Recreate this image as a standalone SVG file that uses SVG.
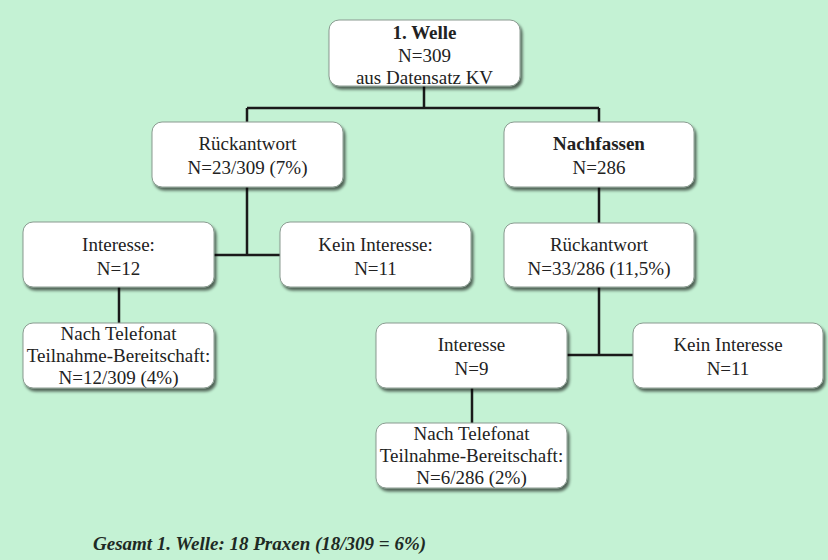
<svg xmlns="http://www.w3.org/2000/svg" width="828" height="560" viewBox="0 0 828 560">
<defs>
<filter id="sh" x="-10%" y="-10%" width="130%" height="140%">
<feGaussianBlur in="SourceAlpha" stdDeviation="1.5"/>
<feOffset dx="2" dy="3" result="b"/>
<feComponentTransfer><feFuncA type="linear" slope="0.6"/></feComponentTransfer>
<feMerge><feMergeNode/><feMergeNode in="SourceGraphic"/></feMerge>
</filter>
</defs>
<style>
.bx{fill:#ffffff;stroke:#8a9a90;stroke-width:1;filter:url(#sh)}
text{font-size:19px;fill:#222;text-anchor:middle}
.b{font-weight:bold}
.ft{font-weight:bold;font-style:italic;text-anchor:start;fill:#1e2a24}
.c{stroke:#1a1a1a;stroke-width:2.5;fill:none}
</style>
<rect width="828" height="560" fill="#c4f2d4"/>
<g id="connectors">
<path class="c" d="M424 86V108M247 108H599M247 108V122M599 108V122"/>
<path class="c" d="M247 187V255M214 255H280"/>
<path class="c" d="M119 287V323"/>
<path class="c" d="M599 187V223M599 287V355M567 355H633"/>
<path class="c" d="M472 388V423"/>
</g>
<g font-family="Liberation Serif, Times New Roman, DejaVu Serif, serif">
<g id="n1"><rect class="bx" x="329" y="20" width="191" height="66" rx="10"/>
<text x="424.5" y="39" class="b">1. Welle</text><text x="424.5" y="62">N=309</text><text x="424.5" y="84">aus Datensatz KV</text></g>
<g id="n2"><rect class="bx" x="152" y="122" width="191" height="65" rx="10"/>
<text x="247.5" y="150">Rückantwort</text><text x="247.5" y="174">N=23/309 (7%)</text></g>
<g id="n3"><rect class="bx" x="504" y="122" width="190" height="65" rx="10"/>
<text x="599" y="150" class="b">Nachfassen</text><text x="599" y="174">N=286</text></g>
<g id="n4"><rect class="bx" x="23" y="222" width="191" height="65" rx="10"/>
<text x="118.5" y="251">Interesse:</text><text x="118.5" y="275">N=12</text></g>
<g id="n5"><rect class="bx" x="280" y="222" width="191" height="65" rx="10"/>
<text x="375.5" y="251">Kein Interesse:</text><text x="375.5" y="275">N=11</text></g>
<g id="n6"><rect class="bx" x="504" y="223" width="190" height="64" rx="10"/>
<text x="599" y="251">Rückantwort</text><text x="599" y="275">N=33/286 (11,5%)</text></g>
<g id="n7"><rect class="bx" x="23" y="323" width="191" height="65" rx="10"/>
<text x="118.5" y="340">Nach Telefonat</text><text x="118.5" y="362">Teilnahme-Bereitschaft:</text><text x="118.5" y="384">N=12/309 (4%)</text></g>
<g id="n8"><rect class="bx" x="376" y="323" width="191" height="65" rx="10"/>
<text x="471.5" y="351">Interesse</text><text x="471.5" y="375">N=9</text></g>
<g id="n9"><rect class="bx" x="633" y="323" width="190" height="65" rx="10"/>
<text x="728" y="351">Kein Interesse</text><text x="728" y="375">N=11</text></g>
<g id="n10"><rect class="bx" x="376" y="423" width="191" height="65" rx="10"/>
<text x="471.5" y="440">Nach Telefonat</text><text x="471.5" y="462">Teilnahme-Bereitschaft:</text><text x="471.5" y="484">N=6/286 (2%)</text></g>
<text class="ft" x="93" y="550">Gesamt 1. Welle: 18 Praxen (18/309 = 6%)</text>
</g>
</svg>
